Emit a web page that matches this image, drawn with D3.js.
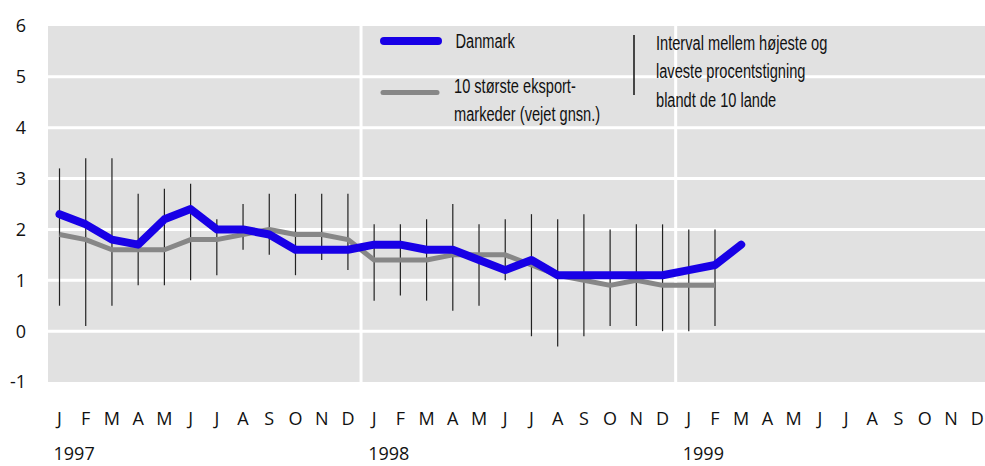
<!DOCTYPE html>
<html><head><meta charset="utf-8">
<script src="https://cdn.jsdelivr.net/npm/d3@7"></script>
<style>
html,body{margin:0;padding:0;background:#fff;}
svg{display:block;}
</style>
</head><body>
<svg id="chart" width="985" height="466"></svg>
<script>
const monthLetters = ["J","F","M","A","M","J","J","A","S","O","N","D"];
const years = ["1997","1998","1999"];
const yTicks = [6,5,4,3,2,1,0,-1];
const danmark = [2.3,2.1,1.8,1.7,2.2,2.4,2.0,2.0,1.9,1.6,1.6,1.6, 1.7,1.7,1.6,1.6,1.4,1.2,1.4,1.1,1.1,1.1,1.1,1.1, 1.2,1.3,1.7];
const markets = [1.9,1.8,1.6,1.6,1.6,1.8,1.8,1.9,2.0,1.9,1.9,1.8, 1.4,1.4,1.4,1.5,1.5,1.5,1.3,1.1,1.0,0.9,1.0,0.9, 0.9,0.9];
const high = [3.2,3.4,3.4,2.7,2.8,2.9,2.2,2.5,2.7,2.7,2.7,2.7, 2.1,2.1,2.2,2.5,2.1,2.2,2.3,2.2,2.3,2.0,2.1,2.1, 2.0,2.0];
const low  = [0.5,0.1,0.5,0.9,0.9,1.0,1.1,1.6,1.5,1.1,1.4,1.2, 0.6,0.7,0.6,0.4,0.5,1.0,-0.1,-0.3,-0.1,0.1,0.1,0.0, 0.0,0.1];
const legendLabels = {
  dk: ["Danmark"],
  mk: ["10 største eksport-","markeder (vejet gnsn.)"],
  rg: ["Interval mellem højeste og","laveste procentstigning","blandt de 10 lande"]
};

const keys = [];
years.forEach((y,yi)=>monthLetters.forEach((m,mi)=>keys.push(yi*12+mi)));

const svg = d3.select("#chart");
const plotL = 48, plotR = 985, plotT = 26, plotB = 382;
const x = d3.scaleBand().domain(keys).range([46.4, 990.3]).padding(0);
const cx = i => x(i) + x.bandwidth()/2;
const y = d3.scaleLinear().domain([-1,6]).range([plotB, plotT]);

const FONT = "'Open Sans', sans-serif";
const LFONT = "'Liberation Sans', Arial, sans-serif";

// background
svg.append("rect").attr("x",plotL).attr("y",plotT).attr("width",plotR-plotL).attr("height",plotB-plotT).attr("fill","#e1e1e1");

// horizontal grid
svg.append("g").selectAll("line").data(yTicks.filter(v=>v>-1 && v<6)).join("line")
  .attr("x1",plotL).attr("x2",plotR).attr("y1",d=>y(d)).attr("y2",d=>y(d))
  .attr("stroke","#fff").attr("stroke-width",3);
// vertical year separators
svg.append("g").selectAll("line").data([12,24]).join("line")
  .attr("x1",d=>x(d)).attr("x2",d=>x(d)).attr("y1",plotT).attr("y2",plotB)
  .attr("stroke","#fff").attr("stroke-width",3);

// y tick labels
svg.append("g").selectAll("text").data(yTicks).join("text")
  .attr("x",26).attr("y",d=>y(d)).attr("dy","0.36em").attr("text-anchor","end")
  .attr("font-family",FONT).attr("font-size",18).attr("fill","#111").text(d=>d);

// month labels
svg.append("g").selectAll("text").data(keys).join("text")
  .attr("x",d=>cx(d)).attr("y",425).attr("text-anchor","middle")
  .attr("font-family",FONT).attr("font-size",18).attr("fill","#111")
  .text(d=>monthLetters[d%12]);
// year labels
svg.append("g").selectAll("text").data(years).join("text")
  .attr("x",(d,i)=>cx(i*12)-6).attr("y",460).attr("text-anchor","start")
  .attr("font-family",FONT).attr("font-size",18).attr("fill","#111").text(d=>d);

// ranges
svg.append("g").selectAll("line").data(high.map((h,i)=>({i,h,l:low[i]}))).join("line")
  .attr("x1",d=>cx(d.i)).attr("x2",d=>cx(d.i)).attr("y1",d=>y(d.h)).attr("y2",d=>y(d.l))
  .attr("stroke","#222").attr("stroke-width",1.2);

const line = d3.line().x((d,i)=>cx(i)).y(d=>y(d));
svg.append("path").attr("d",line(markets)).attr("fill","none")
  .attr("stroke","#878787").attr("stroke-width",5).attr("stroke-linejoin","round");
svg.append("path").attr("d",line(danmark)).attr("fill","none")
  .attr("stroke","#1800e6").attr("stroke-width",8).attr("stroke-linejoin","round").attr("stroke-linecap","round");

// legend
const lg = svg.append("g");
lg.append("line").attr("x1",384).attr("x2",438).attr("y1",41).attr("y2",41)
  .attr("stroke","#1800e6").attr("stroke-width",8).attr("stroke-linecap","round");
lg.append("line").attr("x1",383).attr("x2",437).attr("y1",92.5).attr("y2",92.5)
  .attr("stroke","#878787").attr("stroke-width",5).attr("stroke-linecap","round");
lg.append("line").attr("x1",634).attr("x2",634).attr("y1",35).attr("y2",95)
  .attr("stroke","#111").attr("stroke-width",1.5);

function ltext(lines, x0, y0, dy){
  const g = lg.append("g").attr("transform",`translate(${x0},${y0}) scale(0.75,1)`);
  g.selectAll("text").data(lines).join("text")
    .attr("x",0).attr("y",(d,i)=>i*dy)
    .attr("font-family",LFONT).attr("font-size",19.5).attr("fill","#111").text(d=>d);
}
ltext(legendLabels.dk, 455.5, 47.5, 28.5);
ltext(legendLabels.mk, 454, 92.5, 28.5);
ltext(legendLabels.rg, 656, 50, 28.5);
</script>
</body></html>
